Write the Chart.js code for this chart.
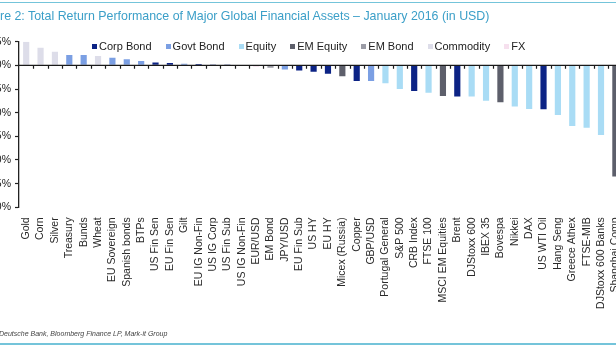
<!DOCTYPE html>
<html>
<head>
<meta charset="utf-8">
<script src="https://cdn.jsdelivr.net/npm/chart.js@4.4.1/dist/chart.umd.min.js"></script>
<style>
  html, body { margin: 0; padding: 0; width: 616px; height: 346px; overflow: hidden; background: #fff; position: relative; font-family: 'Liberation Sans', Arial, sans-serif; }
  #wrap { position: absolute; left: -38px; top: 0; width: 676px; height: 346px; }
  .rule { position: absolute; left: 0; width: 616px; background: #74c4da; }
  #title { position: absolute; top: 10px; font-size: 12.4px; line-height: 12px; color: #3b9fc8; white-space: nowrap; z-index: 2; }
  #legend { position: absolute; left: 92px; top: 40px; display: flex; gap: 14px; font-size: 11px; line-height: 12px; color: #222; white-space: nowrap; z-index: 2; }
  #legend .item { display: flex; align-items: center; }
  #legend i { display: inline-block; width: 5px; height: 5px; margin-right: 2px; }
  #source { position: absolute; top: 330px; font-size: 7px; line-height: 8px; font-style: italic; color: #444; white-space: nowrap; z-index: 2; }
</style>
</head>
<body>
<div class="rule" style="top:2px;height:1px"></div>
<div id="title">Figure 2: Total Return Performance of Major Global Financial Assets – January 2016 (in USD)</div>
<div id="legend"></div>
<div id="wrap"><canvas id="returnsChart" width="676" height="346"></canvas></div>
<div id="source">Source: Deutsche Bank, Bloomberg Finance LP, Mark-it Group</div>
<div class="rule" style="top:343px;height:2px"></div>
<script>
const categories = [
  'Gold', 'Corn', 'Silver', 'Treasury', 'Bunds', 'Wheat', 'EU Sovereign', 'Spanish bonds',
  'BTPs', 'US Fin Sen', 'EU Fin Sen', 'Gilt', 'EU IG Non-Fin', 'US IG Corp', 'US Fin Sub',
  'US IG Non-Fin', 'EUR/USD', 'EM Bond', 'JPY/USD', 'EU Fin Sub', 'US HY', 'EU HY',
  'Micex (Russia)', 'Copper', 'GBP/USD', 'Portugal General', 'S&P 500', 'CRB Index',
  'FTSE 100', 'MSCI EM Equities', 'Brent', 'DJStoxx 600', 'IBEX 35', 'Bovespa', 'Nikkei',
  'DAX', 'US WTI Oil', 'Hang Seng', 'Greece Athex', 'FTSE-MIB', 'DJStoxx 600 Banks',
  'Shanghai Comp'
];

// total return, %, January 2016
const returns = [
  5.0, 3.7, 2.9, 2.2, 2.2, 2.0, 1.6, 1.3,
  0.9, 0.6, 0.5, 0.35, 0.3, 0.2, 0.05,
  -0.05, -0.3, -0.5, -0.9, -1.1, -1.35, -1.8,
  -2.3, -3.3, -3.3, -3.8, -5.0, -5.4,
  -5.8, -6.5, -6.6, -6.6, -7.5, -7.8, -8.7,
  -9.2, -9.3, -10.5, -12.8, -13.2, -14.7,
  -23.5
];

const classNames = ['Corp Bond', 'Govt Bond', 'Equity', 'EM Equity', 'EM Bond', 'Commodity', 'FX'];
const classColors = ['#0c2385', '#7b9fe3', '#a9dcf5', '#5d5f6b', '#9b9ca6', '#dddde9', '#f6e0ee'];

// index into classNames for each category
const assetClass = [
  5, 5, 5, 1, 1, 5, 1, 1,
  1, 0, 0, 1, 0, 0, 0,
  0, 6, 4, 1, 0, 0, 0,
  3, 0, 1, 2, 2, 0,
  2, 3, 0, 2, 2, 3, 2,
  2, 0, 2, 2, 2, 2,
  3
];

const yMin = -30, yMax = 5, yStep = 5;

const fontFamily = "'Liberation Sans', Arial, sans-serif";

// legend row
const legendEl = document.getElementById('legend');
classNames.forEach((name, i) => {
  const item = document.createElement('span');
  item.className = 'item';
  item.innerHTML = `<i style="background:${classColors[i]}"></i>${name}`;
  legendEl.appendChild(item);
});

// the page is cropped: hide the start of the title and source lines
const mctx = document.createElement('canvas').getContext('2d');
mctx.font = `12.4px ${fontFamily}`;
document.getElementById('title').style.left = -mctx.measureText('Figu').width + 'px';
mctx.font = `italic 7px ${fontFamily}`;
document.getElementById('source').style.left = -(mctx.measureText('Source: ').width + 1) + 'px';

// zero line with category ticks hanging below it
const zeroAxis = {
  id: 'zeroAxis',
  afterDatasetsDraw(chart) {
    const { ctx, chartArea, scales: { x, y } } = chart;
    const y0 = y.getPixelForValue(0);
    const half = (x.getPixelForValue(1) - x.getPixelForValue(0)) / 2;
    ctx.save();
    ctx.strokeStyle = '#1a1a1a';
    ctx.lineWidth = 1.2;
    ctx.beginPath();
    ctx.moveTo(chartArea.left, y0);
    ctx.lineTo(chartArea.right, y0);
    for (let i = 1; i < categories.length; i++) {
      const px = Math.round(x.getPixelForValue(i) - half) + 0.5;
      ctx.moveTo(px, y0);
      ctx.lineTo(px, y0 + 3.5);
    }
    ctx.stroke();
    ctx.restore();
  }
};

const ctx = document.getElementById('returnsChart');
new Chart(ctx, {
  type: 'bar',
  data: {
    labels: categories,
    datasets: [{
      data: returns,
      backgroundColor: assetClass.map(c => classColors[c]),
      borderWidth: 0,
      categoryPercentage: 1,
      barPercentage: 0.43
    }]
  },
  options: {
    responsive: false,
    animation: false,
    devicePixelRatio: 1,
    layout: { padding: { top: 41.7, bottom: 8.7, left: 0, right: 2 } },
    plugins: {
      legend: { display: false },
      tooltip: { enabled: false }
    },
    scales: {
      x: {
        grid: { display: false, drawTicks: false },
        border: { display: false },
        ticks: {
          autoSkip: false,
          minRotation: 90,
          maxRotation: 90,
          padding: 10,
          color: '#2a2a2a',
          font: { size: 10.5, family: fontFamily }
        },
        afterFit: s => { s.height = 130; }
      },
      y: {
        min: yMin,
        max: yMax,
        ticks: {
          stepSize: yStep,
          padding: 4,
          color: '#222',
          font: { size: 10.5, family: fontFamily },
          callback: v => v + '%'
        },
        grid: { drawOnChartArea: false, tickLength: 4, tickColor: '#222', tickWidth: 1.2 },
        border: { color: '#222', width: 1.3 },
        afterFit: s => { s.width = 57; }
      }
    }
  },
  plugins: [zeroAxis]
});
</script>
</body>
</html>
